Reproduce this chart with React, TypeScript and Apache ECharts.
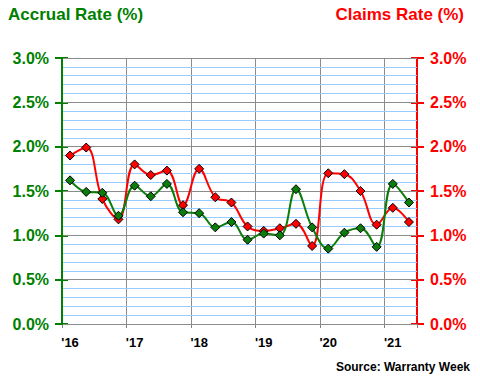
import React, { useEffect, useRef } from "react";
import * as echarts from "echarts";

const quarters = [
  "Q1'16","Q2'16","Q3'16","Q4'16",
  "Q1'17","Q2'17","Q3'17","Q4'17",
  "Q1'18","Q2'18","Q3'18","Q4'18",
  "Q1'19","Q2'19","Q3'19","Q4'19",
  "Q1'20","Q2'20","Q3'20","Q4'20",
  "Q1'21","Q2'21",
];
const yearLabels = ["'16", "'17", "'18", "'19", "'20", "'21"];
const accrualRate = [1.62, 1.49, 1.48, 1.22, 1.56, 1.44, 1.58, 1.26, 1.25, 1.09, 1.15, 0.95, 1.02, 1.0, 1.52, 1.09, 0.85, 1.03, 1.08, 0.87, 1.58, 1.37];
const claimsRate = [1.9, 1.99, 1.41, 1.18, 1.8, 1.68, 1.73, 1.34, 1.75, 1.43, 1.37, 1.1, 1.05, 1.08, 1.13, 0.88, 1.7, 1.69, 1.5, 1.12, 1.31, 1.15];

const GREEN = "#0b7d0b";
const AXIS_GREEN = "#008000";
const RED = "#ff0000";
const FONT = "'Liberation Sans', Arial, sans-serif";

export default function App() {
  const ref = useRef<HTMLDivElement>(null);
  useEffect(() => {
    if (!ref.current) return;
    const chart = echarts.init(ref.current, undefined, { renderer: "svg" });
    const pct = (v: number) => v.toFixed(1) + "%";
    const baseY = (color: string, pos: "left" | "right", show: boolean) => ({
      type: "value",
      position: pos,
      min: 0,
      max: 3,
      interval: 0.5,
      axisLine: { show, lineStyle: { color, width: 2 } },
      axisTick: { show: true, inside: !show, length: show ? 7 : 6, lineStyle: { color, width: 2 } },
      axisLabel: {
        show,
        formatter: pct,
        color,
        fontFamily: FONT,
        fontWeight: "bold",
        fontSize: 16,
        margin: 13,
      },
      splitLine: { show: false },
    });
    chart.setOption({
      animation: false,
      backgroundColor: "#ffffff",
      grid: { left: 62, right: 63, top: 58, bottom: 56, containLabel: false },
      graphic: [
        {
          type: "text",
          left: 8,
          top: 6,
          style: { text: "Accrual Rate (%)", fill: AXIS_GREEN, font: `bold 17px ${FONT}` },
        },
        {
          type: "text",
          right: 16,
          top: 6,
          style: { text: "Claims Rate (%)", fill: RED, font: `bold 17px ${FONT}` },
        },
        {
          type: "text",
          right: 10,
          top: 361,
          style: { text: "Source: Warranty Week", fill: "#000", font: `bold 12px ${FONT}` },
        },
      ],
      xAxis: {
        type: "category",
        data: quarters,
        boundaryGap: true,
        axisLine: { show: true, lineStyle: { color: "#808080", width: 1 } },
        axisTick: { show: true, interval: 3, length: 4, alignWithLabel: false, lineStyle: { color: "#808080" } },
        axisLabel: {
          interval: 3,
          formatter: (_v: string, i: number) => yearLabels[Math.floor(i / 4)],
          color: "#000",
          fontFamily: FONT,
          fontWeight: "bold",
          fontSize: 13,
          margin: 12,
        },
        splitLine: { show: true, interval: 3, lineStyle: { color: "#8c8c8c", width: 1 } },
      },
      yAxis: [
        {
          ...baseY(AXIS_GREEN, "left", true),
          minorTick: { show: false, splitNumber: 5 },
          minorSplitLine: { show: true, lineStyle: { color: "#99ccff", width: 1 } },
          splitLine: { show: true, lineStyle: { color: "#8c8c8c", width: 1 } },
          z: 3,
        },
        baseY(RED, "right", true),
        baseY(AXIS_GREEN, "left", false),
        baseY(RED, "right", false),
      ],
      series: [
        {
          name: "Claims Rate",
          type: "line",
          yAxisIndex: 1,
          data: claimsRate,
          smooth: 0.4,
          symbol: "diamond",
          symbolSize: 9,
          lineStyle: { color: RED, width: 2 },
          itemStyle: { color: RED, borderColor: "#000", borderWidth: 1 },
          z: 3,
        },
        {
          name: "Accrual Rate",
          type: "line",
          yAxisIndex: 0,
          data: accrualRate,
          smooth: 0.4,
          symbol: "diamond",
          symbolSize: 9,
          lineStyle: { color: GREEN, width: 2 },
          itemStyle: { color: GREEN, borderColor: "#000", borderWidth: 1 },
          z: 4,
        },
      ],
    });
    return () => chart.dispose();
  }, []);
  return <div ref={ref} style={{ width: 480, height: 380, position: "fixed", left: 0, top: 0 }} />;
}
